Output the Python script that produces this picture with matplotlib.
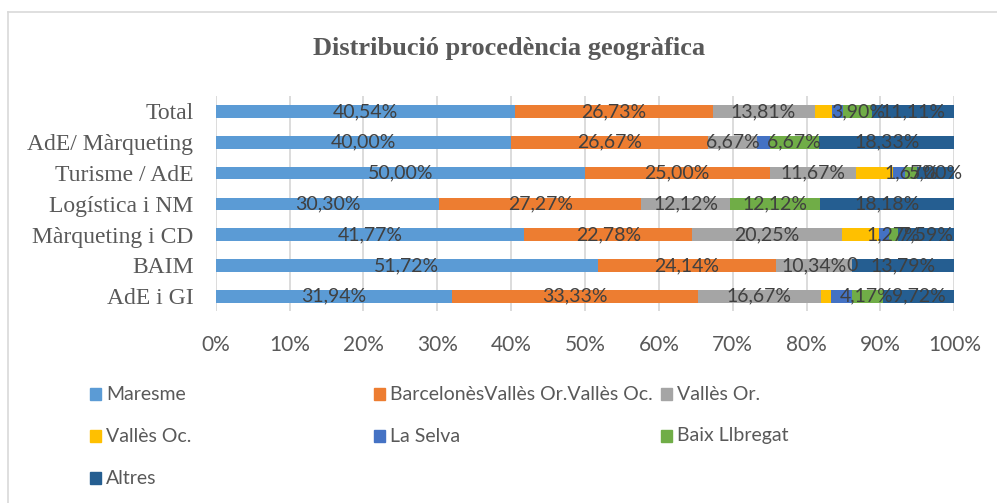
import matplotlib
matplotlib.use('Agg')
import matplotlib.pyplot as plt
import matplotlib.ticker as ticker
from matplotlib.lines import Line2D
from matplotlib.patches import Rectangle

# categories, bottom to top as drawn
groups = ['AdE i GI', 'BAIM', 'Màrqueting i CD', 'Logística i NM',
          'Turisme / AdE', 'AdE/ Màrqueting', 'Total']

series_names = ['Maresme', 'BarcelonèsVallès Or.Vallès Oc.', 'Vallès Or.',
                'Vallès Oc.', 'La Selva', 'Baix Llbregat', 'Altres']

# percentages per group (same order as groups)
maresme = [31.94, 51.72, 41.77, 30.30, 50.00, 40.00, 40.54]
barcelones = [33.33, 24.14, 22.78, 27.27, 25.00, 26.67, 26.73]
valles_or = [16.67, 10.34, 20.25, 12.12, 11.67, 6.67, 13.81]
valles_oc = [1.39, 0.00, 5.06, 0.00, 5.00, 0.00, 2.40]
la_selva = [2.78, 0.00, 1.27, 0.00, 1.67, 1.67, 1.50]
baix_llobregat = [4.17, 0.00, 1.27, 12.12, 1.67, 6.67, 3.90]
altres = [9.72, 13.79, 7.59, 18.18, 5.00, 18.33, 11.11]

series_values = [maresme, barcelones, valles_or, valles_oc, la_selva,
                 baix_llobregat, altres]
colors = ['#5B9BD5', '#ED7D31', '#A5A5A5', '#FFC000', '#4472C4',
          '#70AD47', '#255E91']
# Vallès Oc. and La Selva carry no data labels in the original
has_labels = [True, True, True, False, False, True, True]

SANS = 'Lato'
SERIF = 'Liberation Serif'
GRAY = '#595959'


def fmt_pct(v):
    if v == 0:
        return '0'
    return '{:.2f}%'.format(v).replace('.', ',')


fig = plt.figure(figsize=(9.97, 5.03), dpi=100)
ax = fig.add_axes([0.2163, 0.3817, 0.7409, 0.4274])

y = list(range(len(groups)))
left = [0.0] * len(groups)
for vals, color, lab in zip(series_values, colors, has_labels):
    frac = [v / 100 for v in vals]
    bars = ax.barh(y, frac, left=left, height=0.41, color=color,
                   linewidth=0, zorder=2)
    if lab:
        ax.bar_label(bars, labels=[fmt_pct(v) for v in vals],
                     label_type='center', color='#404040', fontsize=14,
                     fontfamily=SANS, zorder=3)
    left = [a + b for a, b in zip(left, frac)]

ax.set_xlim(0, 1)
ax.set_ylim(-0.48, 6.5)
ax.xaxis.set_major_locator(ticker.MultipleLocator(0.1))
ax.xaxis.set_major_formatter(ticker.PercentFormatter(1.0, decimals=0))
ax.set_yticks(y)
ax.set_yticklabels(groups)
for t in ax.get_yticklabels():
    t.set_fontfamily(SERIF)
    t.set_fontsize(17)
    t.set_color(GRAY)
for t in ax.get_xticklabels():
    t.set_fontfamily(SANS)
    t.set_fontsize(15)
    t.set_color(GRAY)
ax.tick_params(axis='both', length=0)
ax.tick_params(axis='x', pad=17)
ax.tick_params(axis='y', pad=16)
ax.grid(axis='x', color='#D9D9D9', linewidth=1.3, zorder=0)
ax.set_axisbelow(True)
for s in ax.spines.values():
    s.set_visible(False)

fig.text(0.511, 0.904, 'Distribució procedència geogràfica',
         ha='center', va='center', fontfamily=SERIF, fontweight='bold',
         fontsize=19, color=GRAY)

# legend laid out like the spreadsheet one: 3 fixed-width columns
col_x = [90, 374, 661]
row_y = [394, 436, 478]
W, H = 997, 503
for i, (name, color) in enumerate(zip(series_names, colors)):
    cx = col_x[i % 3]
    cy = row_y[i // 3]
    fig.patches.append(Rectangle(((cx) / W, 1 - (cy + 6) / H), 11 / W,
                                 12 / H, transform=fig.transFigure,
                                 color=color))
    fig.text((cx + 16) / W, 1 - cy / H, name, ha='left', va='center',
             fontfamily=SANS, fontsize=14, color=GRAY)

# chart frame (only top and left edges are inside the picture)
fig.add_artist(Line2D([8 / W, 1], [1 - 12 / H, 1 - 12 / H],
                      transform=fig.transFigure, color='#D9D9D9', lw=1.2))
fig.add_artist(Line2D([8 / W, 8 / W], [0, 1 - 12 / H],
                      transform=fig.transFigure, color='#D9D9D9', lw=1.2))

fig.savefig('out.png', dpi=100)
